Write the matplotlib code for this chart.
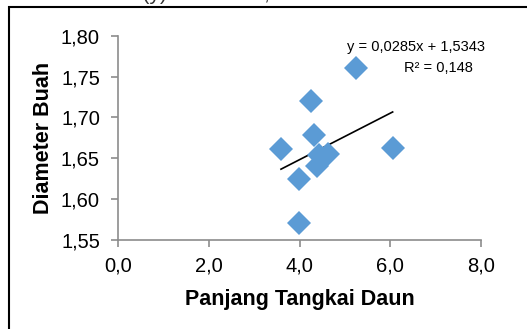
import numpy as np
import matplotlib
matplotlib.use('Agg')
import matplotlib.pyplot as plt
from matplotlib.patches import Rectangle
from matplotlib.ticker import FuncFormatter

plt.rcParams['font.family'] = ['Liberation Sans', 'DejaVu Sans']

# data
panjang_tangkai = [4.25, 4.32, 3.59, 6.05, 4.63, 4.43, 4.39, 3.99, 3.99, 5.24]
diameter_buah = [1.720, 1.679, 1.661, 1.663, 1.655, 1.654, 1.640, 1.625, 1.571, 1.760]
slope, intercept = 0.0285, 1.5343
eq_text = 'y = 0,0285x + 1,5343'
r2_text = 'R² = 0,148'
x_ticks = [0.0, 2.0, 4.0, 6.0, 8.0]
y_ticks = [1.55, 1.60, 1.65, 1.70, 1.75, 1.80]

fig = plt.figure(figsize=(5.27, 3.29), dpi=100)
ax = fig.add_axes([0.224, 0.271, 0.689, 0.620])

ax.plot(panjang_tangkai, diameter_buah, linestyle='none', marker='D',
        markersize=12.5, color='#5B9BD5', markeredgewidth=0, zorder=3)

# linear trendline from min to max x
xs = np.array([min(panjang_tangkai), max(panjang_tangkai)])
ax.plot(xs, slope * xs + intercept, '-k', linewidth=1.2, zorder=2)

ax.set_xlim(0, 8)
ax.set_ylim(1.55, 1.80)
ax.set_xticks(x_ticks)
ax.set_yticks(y_ticks)
ax.xaxis.set_major_formatter(FuncFormatter(lambda v, p: f'{v:.1f}'.replace('.', ',')))
ax.yaxis.set_major_formatter(FuncFormatter(lambda v, p: f'{v:.2f}'.replace('.', ',')))

for s in ['top', 'right']:
    ax.spines[s].set_visible(False)
for s in ['left', 'bottom']:
    ax.spines[s].set_color('#8c8c8c')
    ax.spines[s].set_linewidth(1.2)
ax.tick_params(axis='both', direction='out', length=5, width=1.2, color='#8c8c8c',
               labelsize=14.5, labelcolor='black')
ax.tick_params(axis='x', pad=7)
ax.tick_params(axis='y', pad=8)

ax.set_xlabel('Panjang Tangkai Daun', fontsize=15.5, fontweight='bold', labelpad=10)
ax.set_ylabel('Diameter Buah', fontsize=15.5, fontweight='bold', labelpad=5)

fig.text(416 / 527, 1 - 47 / 329, eq_text, fontsize=10.5, ha='center', va='center')
fig.text(438 / 527, 1 - 68 / 329, r2_text, fontsize=10.5, ha='center', va='center')

# chart border, clipped by image edge
fig.patches.append(Rectangle((9 / 527, -0.1), 1.2, 1 - 7 / 329 + 0.1,
                             transform=fig.transFigure, fill=False,
                             edgecolor='black', linewidth=1.5))

# cut-off caption from the page above
fig.text(3 / 527, 1 + 5 / 329, 'diameter buah (y) sebesar 0,148',
         fontsize=15, ha='left', va='center', color='#333333')

fig.savefig('out.png', dpi=100)
